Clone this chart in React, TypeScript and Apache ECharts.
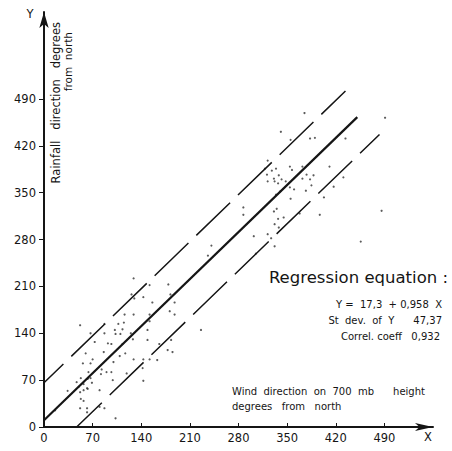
import React, { useEffect, useRef } from "react";
import * as echarts from "echarts";

// Axis tick values (degrees)
const tickValues = [0, 70, 140, 210, 280, 350, 420, 490];

// Observations: [wind direction at 700 mb, rainfall direction] (degrees from north)
const observationsLow: [number, number][] = [
  [52, 152], [67, 140], [87, 154], [102, 145], [107, 154], [116, 168], [129, 168], [113, 146],
  [110, 139], [103, 139], [87, 140], [73, 127], [92, 125], [97, 124], [113, 124], [125, 140],
  [117, 110], [109, 106], [86, 112], [60, 110], [56, 95], [67, 95], [70, 101], [100, 97],
  [129, 101], [143, 101], [152, 168], [152, 158], [83, 86], [90, 82], [97, 82], [119, 80],
  [64, 82], [67, 73], [82, 79], [47, 67], [53, 73], [63, 72], [99, 70], [143, 69],
  [50, 60], [57, 64], [62, 58], [69, 66], [34, 54], [52, 52], [57, 55], [63, 57],
  [80, 55], [53, 42], [57, 39], [52, 28], [62, 28], [62, 22], [80, 30], [87, 28],
  [103, 13], [16, 25], [241, 271], [236, 256], [179, 213], [129, 222], [126, 198], [130, 192],
  [152, 212], [143, 194], [156, 186], [182, 198], [188, 186], [181, 173], [188, 168], [115, 156],
  [149, 145], [128, 131], [149, 130], [183, 130], [166, 124], [178, 115], [185, 112], [152, 101],
  [163, 100], [142, 88], [226, 145],
];
const observationsHigh: [number, number][] = [
  [375, 469], [341, 441], [355, 429], [383, 431], [390, 432], [434, 431], [491, 462], [322, 398],
  [318, 386], [328, 383], [334, 386], [354, 389], [357, 384], [372, 389], [411, 389], [321, 377],
  [338, 376], [331, 371], [342, 370], [322, 367], [332, 367], [337, 364], [348, 367], [378, 377],
  [388, 376], [372, 371], [383, 370], [431, 373], [417, 359], [354, 358], [360, 355], [377, 353],
  [385, 361], [334, 347], [340, 352], [355, 341], [403, 343], [287, 328], [287, 317], [335, 326],
  [331, 322], [337, 311], [345, 313], [368, 319], [397, 317], [332, 303], [338, 298], [302, 285],
  [322, 288], [327, 282], [332, 270], [456, 277], [305, 259], [486, 323],
];

// Regression line and confidence band end points (as drawn)
const regressionLine: [number, number][] = [[0, 10], [451, 463]];
const upperBand: [number, number][] = [[0, 66], [434, 502]];
const lowerBand: [number, number][] = [[47, 0], [483, 437]];

// Annotation texts
const equationTitle = "Regression equation :";
const equationLines = ["Y =  17,3  + 0,958  X", "St  dev.  of  Y      47,37", "Correl. coeff   0,932"];
const xAxisTitle = ["Wind  direction  on  700  mb      height", "degrees   from   north"];
const yAxisTitle = ["Rainfall   direction   degrees", "from  north"];

const FONT = "DejaVu Sans";
const INK = "#151515";

export default function App() {
  const ref = useRef<HTMLDivElement>(null);
  useEffect(() => {
    if (!ref.current) return;
    const chart = echarts.init(ref.current, undefined, { renderer: "svg" });
    const labelFmt = (v: number) => (v <= 490 ? String(v) : "");
    chart.setOption({
      animation: false,
      backgroundColor: "#ffffff",
      grid: { left: 44, right: 19, top: 12, bottom: 24, containLabel: false },
      xAxis: {
        type: "value",
        min: 0,
        max: 560,
        interval: 70,
        splitLine: { show: false },
        axisLine: {
          show: true,
          symbol: ["none", "arrow"],
          symbolSize: [6, 18],
          lineStyle: { color: INK, width: 2 },
        },
        axisTick: { show: true, inside: true, length: 4, lineStyle: { color: INK, width: 1 }, customValues: tickValues },
        axisLabel: {
          color: INK,
          fontFamily: FONT,
          fontSize: 11.5,
          margin: 5,
          formatter: labelFmt,
          customValues: tickValues,
        },
      },
      yAxis: {
        type: "value",
        min: 0,
        max: 620,
        interval: 70,
        splitLine: { show: false },
        axisLine: {
          show: true,
          symbol: ["none", "arrow"],
          symbolSize: [7, 16],
          lineStyle: { color: INK, width: 2 },
        },
        axisTick: { show: true, inside: false, length: 5, lineStyle: { color: INK, width: 1 }, customValues: tickValues },
        axisLabel: {
          color: INK,
          fontFamily: FONT,
          fontSize: 11.5,
          margin: 8,
          formatter: labelFmt,
          customValues: tickValues,
        },
      },
      series: [
        {
          type: "scatter",
          data: observationsLow,
          symbol: "circle",
          symbolSize: 2.2,
          itemStyle: { color: "#333" },
          silent: true,
        },
        {
          type: "scatter",
          data: observationsHigh,
          symbol: "circle",
          symbolSize: 2.2,
          itemStyle: { color: "#333" },
          silent: true,
        },
        {
          type: "line",
          data: regressionLine,
          symbol: "none",
          lineStyle: { color: INK, width: 2.2 },
          silent: true,
        },
        {
          type: "line",
          data: upperBand,
          symbol: "none",
          lineStyle: { color: INK, width: 1.5, type: [47, 11], dashOffset: 20 },
          silent: true,
        },
        {
          type: "line",
          data: lowerBand,
          symbol: "none",
          lineStyle: { color: INK, width: 1.5, type: [47, 11], dashOffset: 12 },
          silent: true,
        },
      ],
      graphic: [
        { type: "text", x: 30, y: 14, style: { text: "Y", fontFamily: FONT, fontSize: 11.5, fill: INK, textAlign: "center", textVerticalAlign: "middle" } },
        { type: "text", x: 428, y: 437, style: { text: "X", fontFamily: FONT, fontSize: 11.5, fill: INK, textAlign: "center", textVerticalAlign: "middle" } },
        {
          type: "text", x: 56, y: 22, rotation: Math.PI / 2,
          style: { text: yAxisTitle[0], fontFamily: FONT, fontSize: 11.5, fill: INK, textAlign: "right", textVerticalAlign: "middle" },
        },
        {
          type: "text", x: 68, y: 32, rotation: Math.PI / 2,
          style: { text: yAxisTitle[1], fontFamily: FONT, fontSize: 10.5, fill: INK, textAlign: "right", textVerticalAlign: "middle" },
        },
        {
          type: "text", x: 448, y: 277,
          style: { text: equationTitle, fontFamily: FONT, fontSize: 16.5, fill: INK, textAlign: "right", textVerticalAlign: "middle" },
        },
        {
          type: "text", x: 442, y: 304,
          style: { text: equationLines[0], fontFamily: FONT, fontSize: 10, fill: INK, textAlign: "right", textVerticalAlign: "middle" },
        },
        {
          type: "text", x: 442, y: 320,
          style: { text: equationLines[1], fontFamily: FONT, fontSize: 10, fill: INK, textAlign: "right", textVerticalAlign: "middle" },
        },
        {
          type: "text", x: 440, y: 336,
          style: { text: equationLines[2], fontFamily: FONT, fontSize: 10, fill: INK, textAlign: "right", textVerticalAlign: "middle" },
        },
        {
          type: "text", x: 232, y: 391,
          style: { text: xAxisTitle[0], fontFamily: FONT, fontSize: 10, fill: INK, textAlign: "left", textVerticalAlign: "middle" },
        },
        {
          type: "text", x: 232, y: 406,
          style: { text: xAxisTitle[1], fontFamily: FONT, fontSize: 10, fill: INK, textAlign: "left", textVerticalAlign: "middle" },
        },
      ],
    });
    return () => chart.dispose();
  }, []);
  return (
    <div
      ref={ref}
      style={{ position: "fixed", left: 0, top: 0, width: 452, height: 451, background: "#fff" }}
    />
  );
}
